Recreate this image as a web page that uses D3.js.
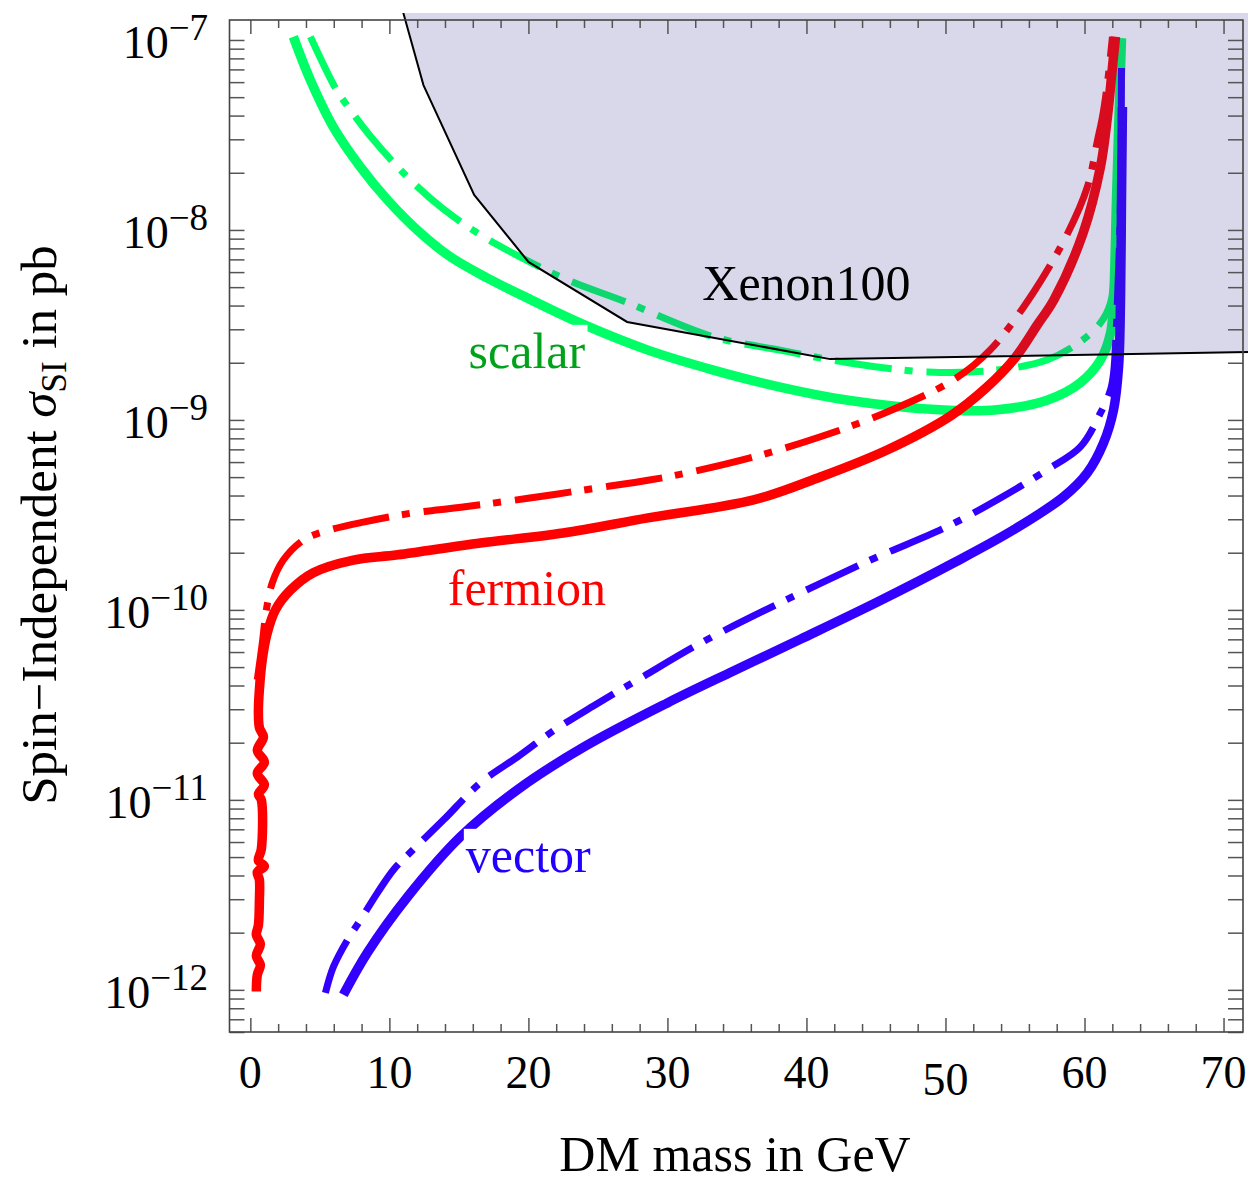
<!DOCTYPE html>
<html>
<meta charset="utf-8">
<head>
<script src="https://d3js.org/d3.v7.min.js"></script>
<style>
  body { margin: 0; background: #fff; }
  text { font-family: "Liberation Serif", "Times New Roman", serif; }
</style>
</head>
<body>
<script>

var width = 1250, height = 1183;

// [DM mass in GeV, sigma_SI in pb]
var scalarSolid = [[3.09,1.04e-7],[4.32,6.15e-8],[5.97,3.48e-8],[7.91,2.15e-8],[9.86,1.44e-8],
  [12.0,1.0e-8],[14.4,7.21e-9],[17.3,5.46e-9],[19.9,4.39e-9],[23.7,3.24e-9],[28.6,2.33e-9],
  [33.3,1.83e-9],[38.1,1.49e-9],[43.0,1.27e-9],[49.6,1.13e-9],[53.7,1.13e-9],[57.3,1.27e-9],
  [59.7,1.57e-9],[61.15,2.07e-9],[61.87,2.87e-9],[62.09,4.29e-9],[62.3,1.44e-8],[62.52,4.83e-8],
  [62.66,1.02e-7]];

var scalarDash = [[4.32,1.04e-7],[6.12,5.58e-8],[6.83,4.66e-8],[8.85,2.98e-8],[11.3,1.90e-8],
  [13.7,1.32e-8],[16.55,9.42e-9],[19.4,7.21e-9],[22.8,5.46e-9],[27.0,4.18e-9],[33.3,2.74e-9],
  [38.1,2.33e-9],[43.0,2.0e-9],[48.7,1.79e-9],[53.7,1.83e-9],[57.3,2.07e-9],[59.7,2.58e-9],
  [61.15,3.24e-9],[61.87,4.13e-9],[62.23,7.57e-9],[62.45,2.64e-8],[62.66,1.02e-7]];

var fermionSolid = [[0.43,9.8e-13],[0.50,1.20e-12],[0.72,1.35e-12],[0.43,1.51e-12],[0.72,1.74e-12],
  [0.43,1.95e-12],[0.58,2.19e-12],[0.65,2.95e-12],[0.65,3.80e-12],[0.50,4.17e-12],[1.01,4.47e-12],
  [0.58,4.79e-12],[0.79,5.50e-12],[0.79,1.0e-11],[0.58,1.07e-11],[1.01,1.20e-11],[0.50,1.38e-11],
  [1.01,1.58e-11],[0.50,1.82e-11],[0.94,2.14e-11],[0.65,2.40e-11],[0.58,2.95e-11],[0.65,3.80e-11],
  [0.86,5.50e-11],[1.22,7.59e-11],[1.80,1.0e-10],[2.88,1.27e-10],[4.53,1.57e-10],[7.41,1.83e-10],
  [10.6,1.95e-10],[16.55,2.25e-10],[22.5,2.54e-10],[28.6,3.05e-10],[36.2,3.79e-10],[41.0,5.01e-10],
  [45.8,6.95e-10],[50.36,1.05e-9],[52.9,1.47e-9],[55.0,2.12e-9],[56.6,3.16e-9],[57.8,4.29e-9],
  [59.9,9.64e-9],[61.15,2.15e-8],[61.65,3.94e-8],[62.01,7.21e-8],[62.23,1.04e-7]];

var fermionDash = [[0.50,4.29e-11],[0.86,6.70e-11],[1.15,1.0e-10],[1.58,1.39e-10],[2.37,1.83e-10],
  [3.81,2.33e-10],[5.25,2.58e-10],[8.13,2.90e-10],[11.7,3.24e-10],[15.3,3.48e-10],[20.1,3.88e-10],
  [25.0,4.39e-10],[28.6,4.81e-10],[31.4,5.26e-10],[36.2,6.38e-10],[41.0,8.15e-10],[45.8,1.10e-9],
  [50.6,1.63e-9],[53.2,2.33e-9],[56.3,4.66e-9],[58.8,9.64e-9],[60.2,1.68e-8],[60.94,2.98e-8],
  [61.29,3.94e-8],[61.65,5.94e-8],[62.01,1.04e-7]];

var vectorSolid = [[6.69,9.42e-13],[8.42,1.57e-12],[11.3,3.08e-12],[15.1,6.38e-12],[19.2,1.13e-11],
  [24.0,1.90e-11],[30.0,3.24e-11],[34.75,4.77e-11],[39.6,7.03e-11],[45.1,1.10e-10],[50.6,1.77e-10],
  [54.9,2.64e-10],[58.5,3.94e-10],[60.2,5.26e-10],[61.37,7.57e-10],[62.09,1.13e-9],[62.45,1.90e-9],
  [62.59,4.29e-9],[62.66,1.44e-8],[62.73,4.44e-8]];

var vectorDash = [[5.40,9.64e-13],[5.97,1.32e-12],[6.98,1.83e-12],[7.91,2.33e-12],[9.14,3.24e-12],
  [10.3,4.29e-12],[11.7,5.46e-12],[13.9,7.85e-12],[16.55,1.23e-11],[19.2,1.68e-11],[21.8,2.31e-11],
  [24.7,3.13e-11],[28.1,4.39e-11],[32.4,6.70e-11],[38.1,1.09e-10],[44.6,1.83e-10],[50.1,2.74e-10],
  [53.7,3.79e-10],[57.3,5.46e-10],[59.7,7.21e-10],[61.15,1.09e-9],[61.87,1.44e-9],[62.09,1.77e-9],
  [62.37,4.29e-9],[62.59,1.44e-8],[62.66,7.13e-8]];

// Xenon100 exclusion limit
var xenonX = [11.0, 12.45, 16.1, 20.0, 27.1, 41.7, 71.9];
var xenonY = [1.39e-7, 5.79e-8, 1.53e-8, 6.79e-9, 3.28e-9, 2.09e-9, 2.28e-9];

var xTickLabels = [0, 10, 20, 30, 40, 50, 60, 70];
var yTickExps = [-7, -8, -9, -10, -11, -12];

var svg = d3.select("body").append("svg")
    .attr("width", width)
    .attr("height", height);

var x = d3.scaleLinear().domain([-1.5, 71.4]).range([229.5, 1243]);
var y = d3.scaleLog().domain([6.0e-13, 1.274e-7]).range([1032, 20]);

var x0 = x.range()[0], x1 = x.range()[1], y0 = y.range()[1], y1 = y.range()[0];

svg.append("clipPath").attr("id", "plot")
  .append("rect").attr("x", x0).attr("y", y0).attr("width", x1 - x0).attr("height", y1 - y0);
// the shaded region is drawn a bit past the frame, like in the original
svg.append("clipPath").attr("id", "pad")
  .append("rect").attr("x", x0).attr("y", y0 - 7).attr("width", x1 - x0 + 5).attr("height", y1 - y0 + 7);

var line = d3.line()
    .x(d => x(d[0]))
    .y(d => y(d[1]))
    .curve(d3.curveCatmullRom.alpha(0.5));

var curves = [
  {data: scalarDash, color: "#00ff66", dash: true},
  {data: scalarSolid, color: "#00ff66", dash: false},
  {data: fermionDash, color: "#ff0000", dash: true},
  {data: fermionSolid, color: "#ff0000", dash: false},
  {data: vectorDash, color: "#3300ff", dash: true},
  {data: vectorSolid, color: "#3300ff", dash: false}
];

var gc = svg.append("g").attr("clip-path", "url(#plot)");
curves.forEach(function(c) {
  gc.append("path")
    .attr("d", line(c.data))
    .attr("fill", "none")
    .attr("stroke", c.color)
    .attr("stroke-width", c.dash ? 7 : 9.5)
    .attr("stroke-dasharray", c.dash ? "57,13,8,14" : null)
    .attr("stroke-linejoin", "round");
});

// Xenon100 shaded region
var xen = xenonX.map((d, i) => [x(d), y(xenonY[i])]);
var area = xen.concat([[xen[xen.length - 1][0], y0 - 7], [xen[0][0], y0 - 7]]);
var gx = svg.append("g").attr("clip-path", "url(#pad)");
gx.append("path")
  .attr("d", "M" + area.join("L") + "Z")
  .attr("fill", "rgb(60,60,150)")
  .attr("fill-opacity", 0.2);
gx.append("path")
  .attr("d", "M" + xen.join("L"))
  .attr("fill", "none")
  .attr("stroke", "#000")
  .attr("stroke-width", 2);

// ticks
var yTicks = [];
for (var e = -13; e <= -7; e++) {
  for (var m = 1; m <= 9; m++) {
    var v = m * Math.pow(10, e);
    if (v >= y.domain()[0] && v <= y.domain()[1]) yTicks.push(v);
  }
}
var xMinor = d3.range(0, 71, 2).filter(d => d % 10 != 0);
var xMajor = d3.range(0, 71, 10);

function styleTicks(g) {
  g.select(".domain").remove();
  g.selectAll("line").attr("stroke", "#555").attr("stroke-width", 1.5);
}

svg.append("g").attr("transform", "translate(" + x0 + ",0)")
  .call(d3.axisLeft(y).tickValues(yTicks).tickSize(-15).tickFormat("")).call(styleTicks);
svg.append("g").attr("transform", "translate(" + x1 + ",0)")
  .call(d3.axisRight(y).tickValues(yTicks).tickSize(-15).tickFormat("")).call(styleTicks);
[[y0, d3.axisTop], [y1, d3.axisBottom]].forEach(function(p) {
  svg.append("g").attr("transform", "translate(0," + p[0] + ")")
    .call(p[1](x).tickValues(xMinor).tickSize(-8).tickFormat("")).call(styleTicks);
  svg.append("g").attr("transform", "translate(0," + p[0] + ")")
    .call(p[1](x).tickValues(xMajor).tickSize(-14).tickFormat("")).call(styleTicks);
});

// frame
svg.append("rect")
  .attr("x", x0).attr("y", y0)
  .attr("width", x1 - x0).attr("height", y1 - y0)
  .attr("fill", "none").attr("stroke", "#444").attr("stroke-width", 1.6);

// tick labels
svg.selectAll(".xlab").data(xTickLabels).enter().append("text")
  .attr("x", d => x(d))
  .attr("y", d => y1 + 56 + (d == 50 ? 7 : 0))
  .attr("text-anchor", "middle")
  .attr("font-size", 46)
  .text(d => d);

var yl = svg.selectAll(".ylab").data(yTickExps).enter().append("text")
  .attr("x", 208)
  .attr("y", d => y(Math.pow(10, d)) + 18)
  .attr("text-anchor", "end")
  .attr("font-size", 46);
yl.append("tspan").text("10");
yl.append("tspan").attr("font-size", 37).attr("dy", -18).text(d => "\u2212" + (-d));

// axis titles
svg.append("text")
  .attr("x", 735).attr("y", 1171)
  .attr("text-anchor", "middle")
  .attr("font-size", 50)
  .text("DM mass in GeV");

var yt = svg.append("text")
  .attr("transform", "translate(56,525) rotate(-90)")
  .attr("text-anchor", "middle")
  .attr("font-size", 51);
yt.append("tspan").text("Spin\u2212Independent ");
yt.append("tspan").attr("font-style", "italic").text("\u03c3");
yt.append("tspan").attr("font-size", 35).attr("dy", 10).text("SI");
yt.append("tspan").attr("dy", -10).text(" in pb");

// curve labels
var labels = [
  {text: "Xenon100", mx: 40, sy: 4.29e-9, color: "#000", anchor: "middle", box: false},
  {text: "scalar", mx: 15.7, sy: 1.88e-9, color: "#00a21a", anchor: "start", box: true},
  {text: "fermion", mx: 14.2, sy: 1.06e-10, color: "#ff0000", anchor: "start", box: true},
  {text: "vector", mx: 15.5, sy: 4.18e-12, color: "#2200ff", anchor: "start", box: true}
];
labels.forEach(function(l) {
  var g = svg.append("g");
  var t = g.append("text")
    .attr("x", x(l.mx)).attr("y", y(l.sy))
    .attr("text-anchor", l.anchor)
    .attr("font-size", 50)
    .attr("fill", l.color)
    .text(l.text);
  if (l.box) {
    var b = t.node().getBBox();
    g.insert("rect", "text")
      .attr("x", b.x - 2).attr("y", b.y + 2)
      .attr("width", b.width + 4).attr("height", b.height - 4)
      .attr("fill", "#fff");
  }
});

</script>
</body>
</html>
